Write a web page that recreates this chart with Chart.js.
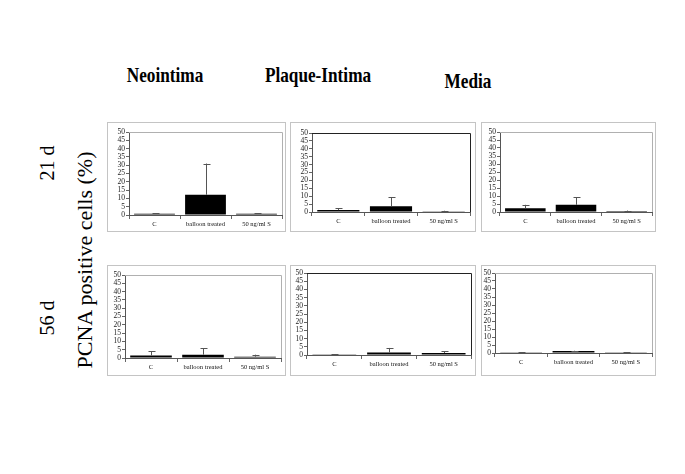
<!DOCTYPE html>
<html>
<head>
<meta charset="utf-8">
<script src="https://cdn.jsdelivr.net/npm/chart.js@4.4.1/dist/chart.umd.min.js"></script>
<style>
  body { margin: 0; background: #fff; width: 685px; height: 474px; position: relative; overflow: hidden; font-family: 'Liberation Serif', serif; }
  .box { position: absolute; border: 1px solid #c4c4c4; box-sizing: border-box; }
  canvas { position: absolute; }
  .title { position: absolute; font-weight: bold; font-size: 21px; transform: translate(-50%, -50%) scaleX(0.82); white-space: nowrap; }
  .side { position: absolute; transform: translate(-50%, -50%) rotate(-90deg); white-space: nowrap; }
</style>
</head>
<body>
<div class="title" style="left:165px;top:75px">Neointima</div>
<div class="title" style="left:318px;top:75px">Plaque-Intima</div>
<div class="title" style="left:468px;top:81px">Media</div>
<div class="side" style="left:47px;top:163px;font-size:20px">21 d</div>
<div class="side" style="left:47px;top:318px;font-size:20px">56 d</div>
<div class="side" style="left:85px;top:260px;font-size:22px">PCNA positive cells (%)</div>

<script>
const categories = ['C', 'balloon treated', '50 ng/ml S']
const yTicks = [0, 5, 10, 15, 20, 25, 30, 35, 40, 45, 50]

const neointima21 = [0.8, 12.2, 0.8]
const neointima21Err = [0.2, 18.8, 0.2]
const plaque21 = [1.2, 3.6, 0.5]
const plaque21Err = [1.2, 5.9, 0.3]
const media21 = [2.3, 4.5, 0.6]
const media21Err = [2.2, 4.8, 0.3]

const neointima56 = [1.5, 2.0, 0.8]
const neointima56Err = [2.5, 3.8, 1.2]
const plaque56 = [0.1, 1.6, 1.2]
const plaque56Err = [0.5, 2.7, 1.0]
const media56 = [0.1, 1.2, 0.1]
const media56Err = [0.3, 0.2, 0.3]

// box = panel outline, plot = wanted chart area (page pixels)
const panels = [
  { values: neointima21, errors: neointima21Err, box: [107, 122, 286, 232], plot: [129, 132, 282, 215], frame: '#b0b0b0' },
  { values: plaque21, errors: plaque21Err, box: [290, 122, 476, 232], plot: [312, 133, 470, 212], frame: '#222' },
  { values: media21, errors: media21Err, box: [481, 122, 656, 232], plot: [500, 132, 652, 212], frame: '#b0b0b0' },
  { values: neointima56, errors: neointima56Err, box: [107, 265, 286, 376], plot: [125, 275, 281, 358], frame: '#b0b0b0' },
  { values: plaque56, errors: plaque56Err, box: [290, 265, 476, 376], plot: [307, 273, 471, 355], frame: '#222' },
  { values: media56, errors: media56Err, box: [481, 265, 656, 376], plot: [495, 273, 652, 353], frame: '#b0b0b0' }
]

const Y_WIDTH = 13
const X_HEIGHT = 14

const errorBars = {
  id: 'errorBars',
  afterDatasetsDraw(chart, args, opts) {
    const ctx = chart.ctx
    const meta = chart.getDatasetMeta(0)
    const y = chart.scales.y
    ctx.save()
    ctx.strokeStyle = '#555'
    ctx.lineWidth = 1
    meta.data.forEach((bar, i) => {
      const v = chart.data.datasets[0].data[i]
      const top = y.getPixelForValue(v + opts.errors[i])
      const base = y.getPixelForValue(v)
      const x = Math.round(bar.x) + 0.5
      ctx.beginPath()
      ctx.moveTo(x, base)
      ctx.lineTo(x, top)
      ctx.moveTo(x - 3, Math.round(top) + 0.5)
      ctx.lineTo(x + 4, Math.round(top) + 0.5)
      ctx.stroke()
    })
    ctx.restore()
  }
}

const plotFrame = {
  id: 'plotFrame',
  beforeDatasetsDraw(chart, args, opts) {
    const a = chart.chartArea
    const ctx = chart.ctx
    ctx.save()
    ctx.strokeStyle = opts.color
    ctx.lineWidth = 1
    ctx.beginPath()
    ctx.moveTo(a.left, Math.round(a.top) + 0.5)
    ctx.lineTo(Math.round(a.right) + 0.5, Math.round(a.top) + 0.5)
    ctx.lineTo(Math.round(a.right) + 0.5, a.bottom)
    ctx.stroke()
    ctx.restore()
  }
}

panels.forEach(p => {
  const [x0, y0, x1, y1] = p.box
  const [px0, py0, px1, py1] = p.plot

  const div = document.createElement('div')
  div.className = 'box'
  div.style.left = x0 + 'px'
  div.style.top = y0 + 'px'
  div.style.width = (x1 - x0) + 'px'
  div.style.height = (y1 - y0) + 'px'
  document.body.appendChild(div)

  const canvas = document.createElement('canvas')
  canvas.width = x1 - x0
  canvas.height = y1 - y0
  canvas.style.left = x0 + 'px'
  canvas.style.top = y0 + 'px'
  document.body.appendChild(canvas)

  new Chart(canvas, {
    type: 'bar',
    data: {
      labels: categories,
      datasets: [{
        data: p.values,
        backgroundColor: '#000',
        borderWidth: 0,
        barPercentage: 0.8,
        categoryPercentage: 1
      }]
    },
    options: {
      responsive: false,
      animation: false,
      devicePixelRatio: 1,
      layout: {
        padding: {
          left: px0 - x0 - Y_WIDTH,
          top: py0 - y0,
          right: x1 - px1,
          bottom: y1 - py1 - X_HEIGHT
        }
      },
      plugins: {
        legend: { display: false },
        tooltip: { enabled: false },
        errorBars: { errors: p.errors },
        plotFrame: { color: p.frame }
      },
      scales: {
        x: {
          grid: { display: true, drawOnChartArea: false, tickLength: 4, color: '#666' },
          border: { color: '#555' },
          ticks: { color: '#111', font: { family: 'Liberation Serif', size: 6.5 }, padding: 1, maxRotation: 0 },
          afterFit(scale) { scale.height = X_HEIGHT }
        },
        y: {
          min: 0,
          max: 50,
          afterBuildTicks(scale) { scale.ticks = yTicks.map(v => ({ value: v })) },
          grid: { display: true, drawOnChartArea: false, tickLength: 3, color: '#666' },
          border: { color: '#555' },
          ticks: { color: '#222', font: { family: 'Liberation Serif', size: 7.5 }, padding: 1, autoSkip: false },
          afterFit(scale) { scale.width = Y_WIDTH }
        }
      }
    },
    plugins: [errorBars, plotFrame]
  })
})
</script>
</body>
</html>
